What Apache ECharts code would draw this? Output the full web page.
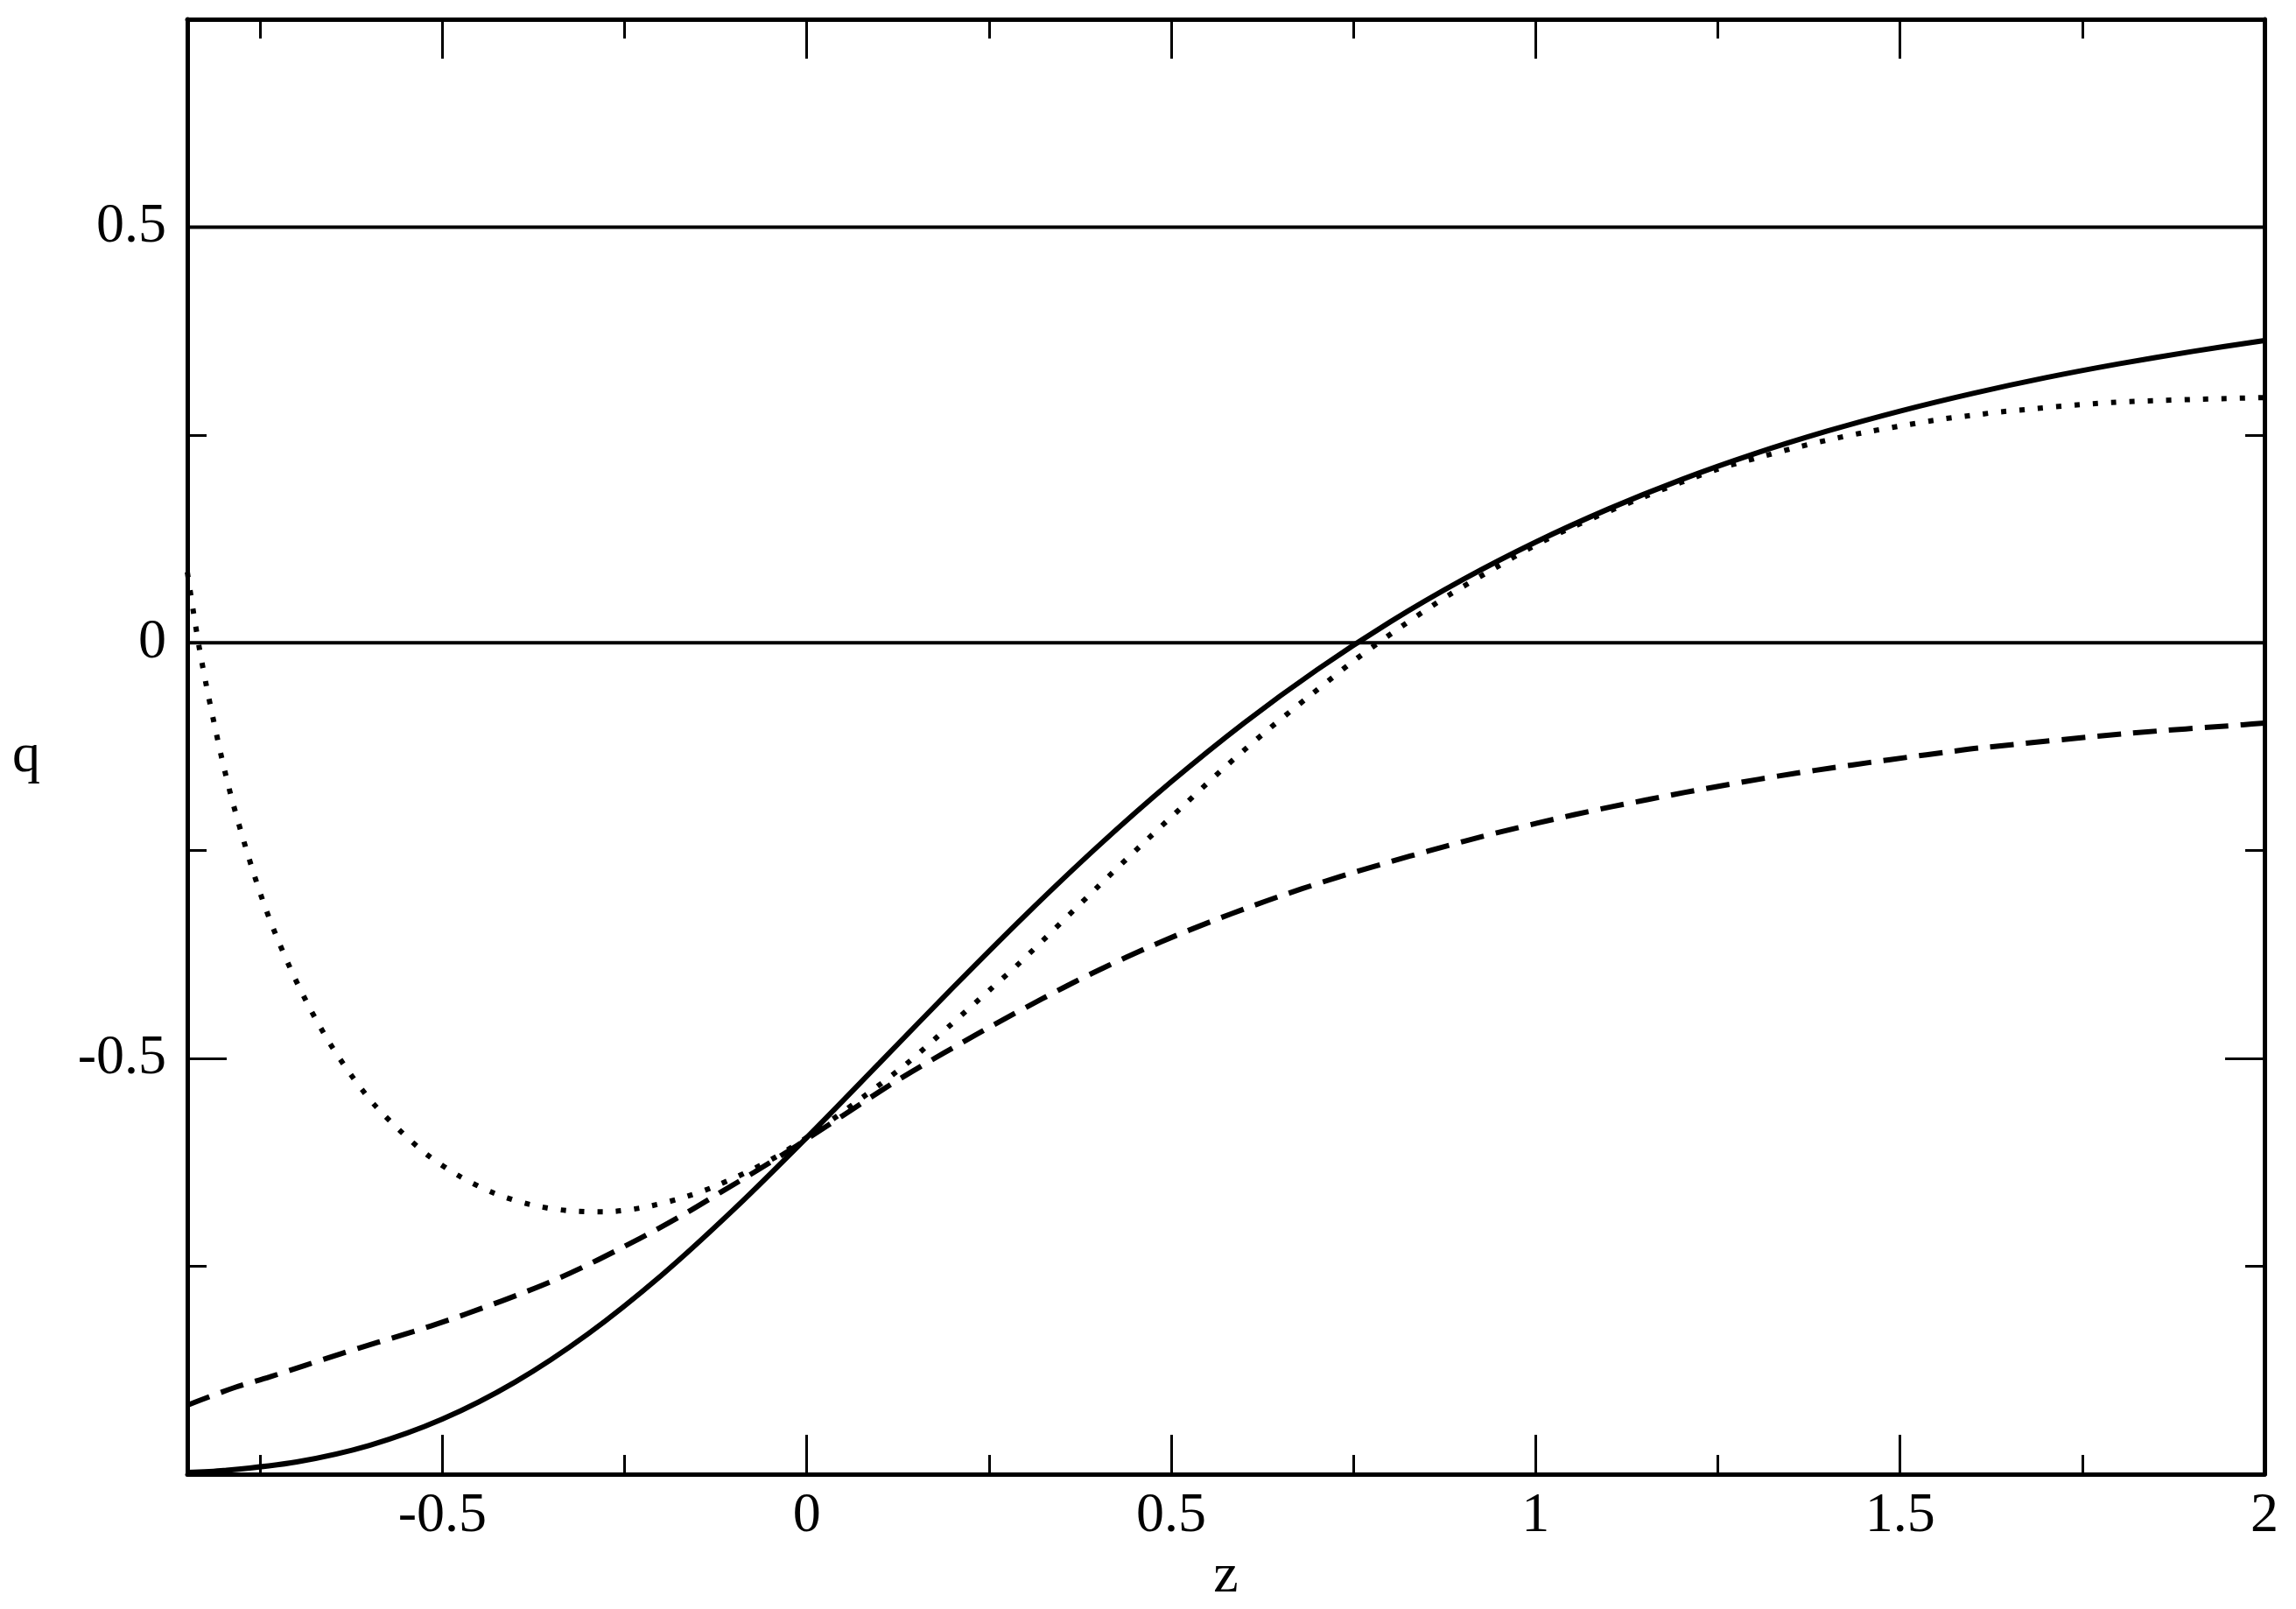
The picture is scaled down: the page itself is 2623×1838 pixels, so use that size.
<!DOCTYPE html>
<html>
<head>
<meta charset="utf-8">
<script src="https://cdn.jsdelivr.net/npm/echarts@6/dist/echarts.min.js"></script>
<style>
html,body{margin:0;padding:0;background:#fff;}
#chart{width:2623px;height:1838px;}
</style>
</head>
<body>
<div id="chart"></div>
<script>
// ---- data ----
const xMajorTicks = [-0.5, 0, 0.5, 1, 1.5, 2];
const xMinorTicks = [-0.75, -0.25, 0.25, 0.75, 1.25, 1.75];
const yMajorTicks = [-0.5, 0, 0.5];
const yMinorTicks = [-0.75, -0.25, 0.25];

const refZ = [-0.85, 2];
const refLineZero = [0, 0];
const refLineHalf = [0.5, 0.5];

// solid curve
const zSolid = [-0.85, -0.8, -0.7, -0.6, -0.5, -0.4, -0.3, -0.2, -0.1, 0, 0.1, 0.2, 0.3, 0.4, 0.5, 0.6, 0.7, 0.8, 0.9, 1.0, 1.1, 1.2, 1.3, 1.4, 1.5, 1.6, 1.7, 1.8, 1.9, 2.0];
const qSolid = [-0.998, -0.9956, -0.9852, -0.9653, -0.9337, -0.889, -0.8311, -0.7612, -0.6814, -0.595, -0.5052, -0.4151, -0.3275, -0.2444, -0.1672, -0.0964, -0.0325, 0.0249, 0.0759, 0.1211, 0.161, 0.1963, 0.2273, 0.2546, 0.2787, 0.300, 0.3189, 0.3355, 0.3503, 0.3635];

// dashed curve
const zDashed = [-0.85, -0.834, -0.786, -0.737, -0.688, -0.639, -0.589, -0.54, -0.491, -0.443, -0.394, -0.346, -0.299, -0.2525, -0.2077, -0.1624, -0.1176, -0.0716, -0.0275, 0, 0.0986, 0.1427, 0.1879, 0.2328, 0.278, 0.3229, 0.3697, 0.4149, 0.4629, 0.5102, 0.5583, 0.6071, 0.6551, 0.704, 0.7533, 0.8025, 0.8526, 0.9014, 0.9514, 1.0027, 1.0536, 1.1036, 1.1545, 1.205, 1.2557, 1.3067, 1.3571, 1.4079, 1.4592, 1.51, 1.562, 1.612, 1.814, 1.97, 2.0];
const qDashed = [-0.917, -0.9116, -0.896, -0.883, -0.869, -0.855, -0.8415, -0.8285, -0.8145, -0.7995, -0.7835, -0.7665, -0.7475, -0.727, -0.7065, -0.6842, -0.6606, -0.6365, -0.6125, -0.597, -0.5405, -0.5165, -0.4935, -0.471, -0.4492, -0.4282, -0.4069, -0.3877, -0.3685, -0.3508, -0.334, -0.3179, -0.303, -0.2888, -0.2755, -0.2628, -0.2505, -0.2388, -0.2275, -0.2168, -0.2066, -0.1973, -0.1885, -0.1799, -0.1718, -0.1641, -0.1569, -0.1503, -0.1438, -0.1377, -0.1317, -0.1262, -0.1089, -0.0986, -0.0965];

// dotted curve
const zDotted = [-0.85, -0.8416, -0.8332, -0.8236, -0.813, -0.802, -0.7895, -0.7755, -0.7603, -0.7438, -0.725, -0.7038, -0.681, -0.655, -0.626, -0.594, -0.558, -0.519, -0.4756, -0.429, -0.3795, -0.3286, -0.277, -0.227, -0.1749, -0.1256, -0.0555, 0, 0.0746, 0.1359, 0.1939, 0.252, 0.2908, 0.4022, 0.4581, 0.515, 0.5723, 0.6304, 0.6912, 0.752, 0.8154, 0.8806, 0.9475, 0.9923, 1.05, 1.15, 1.25, 1.3058, 1.3551, 1.4059, 1.456, 1.5072, 1.5581, 1.61, 1.6353, 1.79, 2.0];
const qDotted = [0.085, 0.037, -0.008, -0.0527, -0.0976, -0.1415, -0.186, -0.2296, -0.2735, -0.3166, -0.3588, -0.4009, -0.441, -0.481, -0.519, -0.555, -0.587, -0.617, -0.642, -0.662, -0.6757, -0.683, -0.6844, -0.6796, -0.6686, -0.6536, -0.6248, -0.595, -0.548, -0.507, -0.4622, -0.4167, -0.386, -0.291, -0.244, -0.1973, -0.1506, -0.1063, -0.0629, -0.0207, 0.0193, 0.0572, 0.0916, 0.114, 0.139, 0.176, 0.209, 0.2228, 0.2344, 0.2449, 0.2538, 0.2618, 0.2691, 0.2748, 0.2776, 0.289, 0.295];

const zip = (xs, ys) => xs.map((x, i) => [x, ys[i]]);

const FONT = '"Liberation Serif", "Times New Roman", serif';
const BLACK = '#000';

function xAx(position, ticks, len, showLine, showLabel) {
  return {
    type: 'value', position: position, min: -0.85, max: 2, gridIndex: 0,
    axisLine: { show: showLine, onZero: false, lineStyle: { color: BLACK, width: 5 } },
    axisTick: { show: true, inside: true, length: len, customValues: ticks, lineStyle: { color: BLACK, width: 3 } },
    axisLabel: { show: showLabel, customValues: ticks, margin: 16, color: BLACK, fontFamily: FONT, fontSize: 64 },
    splitLine: { show: false }, minorTick: { show: false }
  };
}
function yAx(position, ticks, len, showLine, showLabel) {
  return {
    type: 'value', position: position, min: -1, max: 0.75, gridIndex: 0,
    axisLine: { show: showLine, onZero: false, lineStyle: { color: BLACK, width: 5 } },
    axisTick: { show: true, inside: true, length: len, customValues: ticks, lineStyle: { color: BLACK, width: 3 } },
    axisLabel: { show: showLabel, customValues: ticks, margin: 24, color: BLACK, fontFamily: FONT, fontSize: 64 },
    splitLine: { show: false }, minorTick: { show: false }
  };
}

const chart = echarts.init(document.getElementById('chart'), null, { renderer: 'canvas' });
chart.setOption({
  animation: false,
  backgroundColor: '#fff',
  grid: { left: 214, top: 22, width: 2373, height: 1662, containLabel: false },
  graphic: [
    { type: 'text', x: 30, y: 864, style: { text: 'q', font: '64px "Liberation Serif", serif', fill: BLACK, align: 'center', verticalAlign: 'middle' } }
  ],
  xAxis: [
    Object.assign(xAx('bottom', xMajorTicks, 45, true, true), { name: 'z', nameLocation: 'middle', nameGap: 75, nameTextStyle: { color: BLACK, fontFamily: FONT, fontSize: 64 } }),
    xAx('bottom', xMinorTicks, 22, false, false),
    xAx('top', xMajorTicks, 45, true, false),
    xAx('top', xMinorTicks, 22, false, false)
  ],
  yAxis: [
    yAx('left', yMajorTicks, 45, true, true),
    yAx('left', yMinorTicks, 22, false, false),
    yAx('right', yMajorTicks, 45, true, false),
    yAx('right', yMinorTicks, 22, false, false)
  ],
  series: [
    { type: 'line', data: zip(refZ, refLineZero), showSymbol: false, symbol: 'none', lineStyle: { color: BLACK, width: 4 } },
    { type: 'line', data: zip(refZ, refLineHalf), showSymbol: false, symbol: 'none', lineStyle: { color: BLACK, width: 4 } },
    { type: 'line', data: zip(zSolid, qSolid), showSymbol: false, symbol: 'none', smooth: 0.3, lineStyle: { color: BLACK, width: 6 } },
    { type: 'line', data: zip(zDashed, qDashed), showSymbol: false, symbol: 'none', smooth: 0.3, lineStyle: { color: BLACK, width: 6, type: [27, 14], cap: 'butt' } },
    { type: 'line', data: zip(zDotted, qDotted), showSymbol: false, symbol: 'none', smooth: 0.3, lineStyle: { color: BLACK, width: 6, type: [6, 15], cap: 'butt' } }
  ]
});
</script>
</body>
</html>
